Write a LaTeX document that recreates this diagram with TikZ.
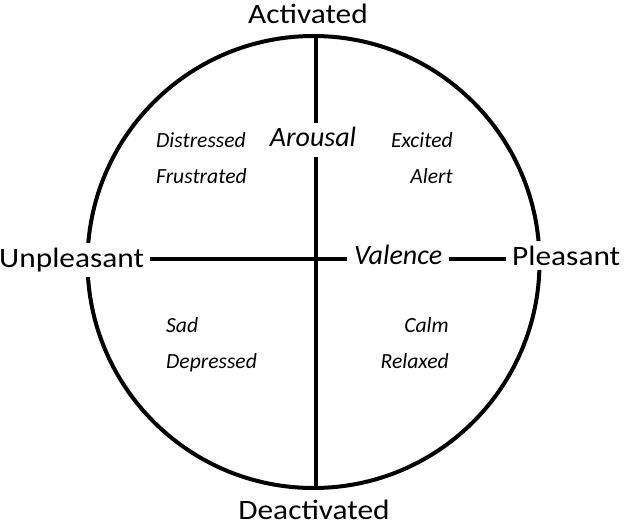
\documentclass[tikz,border=0pt]{standalone}
\usepackage{fontspec}
\setmainfont{Carlito}
\newfontfamily\polefont[FakeStretch=1.12]{Carlito}
\begin{document}
\begin{tikzpicture}[x=1pt,y=-1pt,
  axis/.style={line width=3.8pt},
  pole/.style={font=\polefont\fontsize{28}{30}\selectfont, inner sep=0pt},
  axlabel/.style={font=\itshape\fontsize{28}{30}\selectfont, inner sep=0pt},
  emo/.style={font=\itshape\fontsize{21.6}{24}\selectfont, inner sep=0pt}]
\useasboundingbox[fill=white] (0,0) rectangle (624,525);
% circle
\node[circle, draw, line width=4pt, minimum size=452pt, inner sep=0pt] (ring) at (313.5,262) {};
\coordinate (vx) at (316,0);
\coordinate (hl) at (0,259);
% axis labels
\node[axlabel, anchor=base, inner xsep=4pt, inner ysep=5pt, text height=18pt, text depth=6pt] (arousal) at (313,146) {Arousal};
\node[axlabel, anchor=base west, inner xsep=7pt] (valence) at (347,264) {Valence};
% poles
\node[pole, anchor=base west, fill=white, inner xsep=6pt, inner ysep=5pt] (unpleasant) at (-7,267) {Unpleasant};
\node[pole, anchor=base west, fill=white, inner xsep=6pt, inner ysep=5pt] (pleasant) at (506,265) {Pleasant};
\node[pole, anchor=base] (activated) at (308,23) {Activated};
\node[pole, anchor=base] (deactivated) at (314,519) {Deactivated};
% axes
\draw[axis] (ring.north -| vx) -- (vx |- arousal.north);
\draw[axis] (vx |- arousal.south) -- (ring.south -| vx);
\draw[axis] (unpleasant.east |- hl) -- (valence.west |- hl);
\draw[axis] (valence.east |- hl) -- (pleasant.west |- hl);
% emotions
\node[emo, anchor=base west] (distressed) at (156,147) {Distressed};
\node[emo, anchor=base west] (frustrated) at (156,183) {Frustrated};
\node[emo, anchor=base east] (excited) at (453,147) {Excited};
\node[emo, anchor=base east] (alert) at (453,183) {Alert};
\node[emo, anchor=base west] (sad) at (166,332) {Sad};
\node[emo, anchor=base west] (depressed) at (166,368) {Depressed};
\node[emo, anchor=base east] (calm) at (449,332) {Calm};
\node[emo, anchor=base east] (relaxed) at (449,368) {Relaxed};
\end{tikzpicture}
\end{document}
